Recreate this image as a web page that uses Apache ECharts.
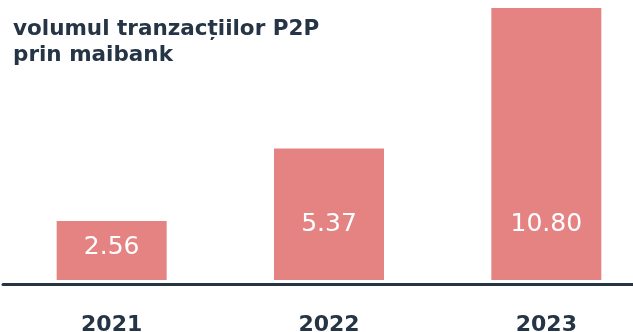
<!DOCTYPE html>
<html>
<head>
<meta charset="utf-8">
<script src="https://cdn.jsdelivr.net/npm/echarts@6/dist/echarts.min.js"></script>
<style>
  html, body { margin: 0; padding: 0; background: #ffffff; }
  #chart { width: 633px; height: 332px; }
</style>
</head>
<body>
<div id="chart"></div>
<script>
// P2P transaction volume by year
const years = ['2021', '2022', '2023'];
const volumes = [2.56, 5.37, 10.80];
const titleLines = ['volumul tranzacțiilor P2P', 'prin maibank'];

const NAVY = '#253545';
const BAR = '#e58383';

const chart = echarts.init(document.getElementById('chart'), null, { renderer: 'canvas' });

// the smallest bar keeps its label a bit lower than the taller ones
const barData = volumes.map((v, i) => ({
  value: v,
  label: { distance: i === 0 ? 20 : 43 }
}));

chart.setOption({
  animation: false,
  backgroundColor: '#ffffff',
  title: {
    text: titleLines.join('\n'),
    left: 8,
    top: 11,
    textStyle: {
      fontFamily: 'DejaVu Sans',
      fontWeight: 'bold',
      fontSize: 21.5,
      lineHeight: 26,
      color: NAVY
    }
  },
  // plot area runs a little past the right edge so the three slots are evenly spaced
  grid: {
    left: 3, width: 652, top: 8, bottom: 52,
    containLabel: false,
    outerBoundsMode: 'none'
  },
  xAxis: {
    type: 'category',
    data: years,
    offset: 4.5,
    axisLine: { show: true, lineStyle: { color: NAVY, width: 3 } },
    axisTick: { show: false },
    axisLabel: {
      margin: 30,
      fontFamily: 'DejaVu Sans',
      fontWeight: 'bold',
      fontSize: 22,
      color: NAVY
    }
  },
  yAxis: {
    type: 'value',
    min: 0.28,
    max: 10.8,
    show: false,
    splitLine: { show: false }
  },
  series: [{
    type: 'bar',
    data: barData,
    barWidth: 110,
    clip: true,
    itemStyle: { color: BAR },
    label: {
      show: true,
      position: 'insideBottom',
      formatter: p => p.value.toFixed(2),
      fontFamily: 'DejaVu Sans',
      fontSize: 25,
      color: '#ffffff'
    }
  }]
});
</script>
</body>
</html>
